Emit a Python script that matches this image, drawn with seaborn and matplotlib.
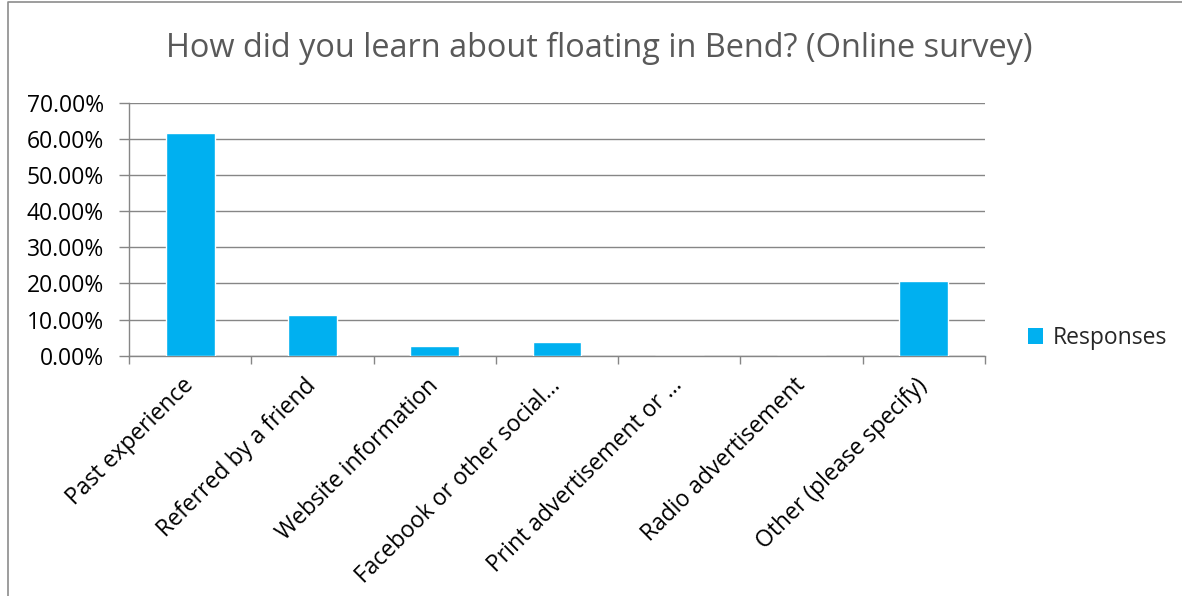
import matplotlib
matplotlib.use("Agg")
import matplotlib.pyplot as plt
from matplotlib.patches import Patch
from matplotlib.lines import Line2D
from matplotlib.ticker import FixedLocator, PercentFormatter
import seaborn as sns
import pandas as pd

categories = [
    "Past experience",
    "Referred by a friend",
    "Website information",
    "Facebook or other social…",
    "Print advertisement or …",
    "Radio advertisement",
    "Other (please specify)",
]
responses = [61.7, 11.2, 2.8, 3.7, 0.0, 0.0, 20.6]
y_ticks = [0, 10, 20, 30, 40, 50, 60, 70]
title = "How did you learn about floating in Bend? (Online survey)"
series_name = "Responses"

bar_color = "#00B0F0"
grid_color = "#868686"
font = ["Open Sans", "DejaVu Sans"]

sns.set_theme(style="white")
plt.rcParams["font.family"] = font

df = pd.DataFrame({"category": categories, "value": responses})

W, H = 1182, 596
fig = plt.figure(figsize=(W / 100, H / 100), dpi=100)
ax = fig.add_axes([129 / W, 1 - 355.7 / H, 856 / W, 253 / H])

sns.barplot(data=df, x="category", y="value", color=bar_color, width=0.4,
            saturation=1, ax=ax, zorder=3)

ax.set_xlim(-0.5, len(categories) - 0.5)
ax.set_ylim(0, 70)
ax.set_yticks(y_ticks)
ax.yaxis.set_major_formatter(PercentFormatter(decimals=2))
ax.grid(axis="y", color=grid_color, linewidth=1, zorder=0)
ax.set_xlabel("")
ax.set_ylabel("")

for side in ("top", "right"):
    ax.spines[side].set_visible(False)
for side in ("left", "bottom"):
    ax.spines[side].set_color(grid_color)
    ax.spines[side].set_linewidth(1)

# category boundary ticks along the x axis
ax.xaxis.set_minor_locator(FixedLocator([i - 0.5 for i in range(len(categories) + 1)]))
ax.tick_params(axis="x", which="minor", length=6, width=1, color=grid_color, direction="out", bottom=True)
ax.tick_params(axis="x", which="major", length=0, pad=19, labelsize=16.5, labelcolor="black")
ax.tick_params(axis="y", which="major", length=7, width=1, color=grid_color, direction="out", left=True,
               labelsize=16.5, labelcolor="black", pad=11)
for lbl in ax.get_xticklabels():
    lbl.set_rotation(45)
    lbl.set_ha("right")
    lbl.set_va("center")
    lbl.set_rotation_mode("anchor")

fig.text(599 / W, 1 - 48 / H, title, ha="center", va="center", fontsize=23.4, color="#595959")

ax.legend(handles=[Patch(facecolor=bar_color, edgecolor="none", label=series_name)],
          loc="center left", bbox_to_anchor=(1.04, 0.07), frameon=False, fontsize=16.5,
          handlelength=0.65, handleheight=0.65, handletextpad=0.4, borderaxespad=0)

# chart area outline (left and top edges)
fig.lines.append(Line2D([7.5 / W, 7.5 / W, 1.0], [0.0, 1 - 1.5 / H, 1 - 1.5 / H],
                        transform=fig.transFigure, color="#8c8c8c", linewidth=1.2))

fig.savefig("out.png", dpi=100)
